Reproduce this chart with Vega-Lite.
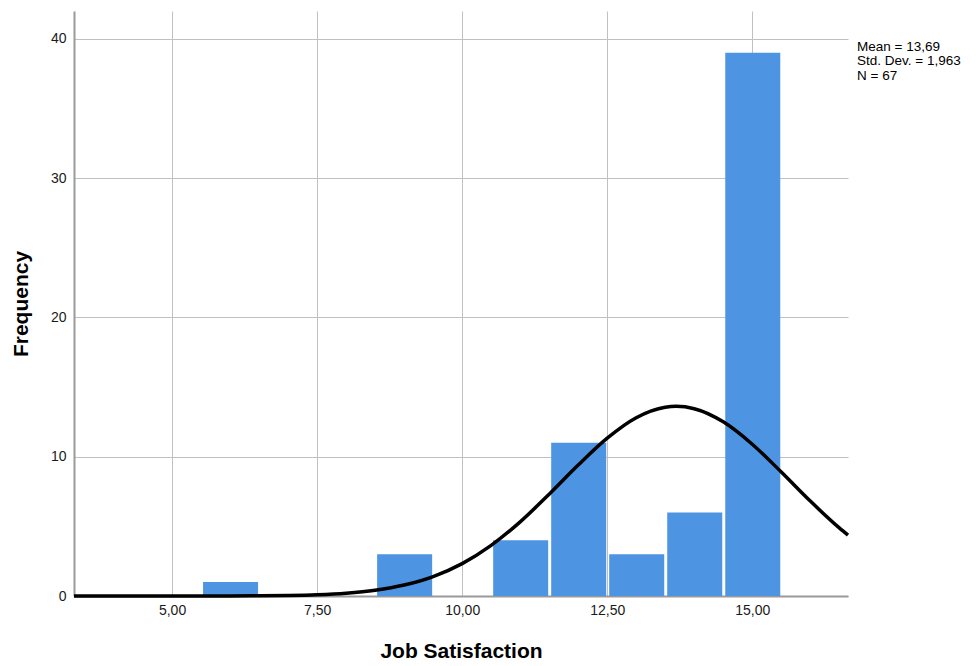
{
  "$schema": "https://vega.github.io/schema/vega-lite/v6.json",
  "autosize": {"type": "none"},
  "width": 774,
  "height": 585,
  "padding": {"left": 74, "top": 11, "right": 131, "bottom": 70},
  "background": "white",
  "config": {
    "font": "Liberation Sans",
    "view": {"stroke": null},
    "axis": {
      "grid": true,
      "gridColor": "#c0c0c0",
      "gridWidth": 1,
      "ticks": false,
      "labelFont": "Liberation Sans",
      "labelFontSize": 14,
      "labelColor": "#1a1a1a",
      "titleFont": "Liberation Sans",
      "titleFontSize": 21,
      "titleFontWeight": "bold",
      "titleColor": "#000000",
      "domainColor": "#9a9a9a",
      "domainWidth": 2
    }
  },
  "datasets": {
    "bins": [
      {"bin_start": 5.5, "bin_end": 6.5, "count": 1},
      {"bin_start": 8.5, "bin_end": 9.5, "count": 3},
      {"bin_start": 10.5, "bin_end": 11.5, "count": 4},
      {"bin_start": 11.5, "bin_end": 12.5, "count": 11},
      {"bin_start": 12.5, "bin_end": 13.5, "count": 3},
      {"bin_start": 13.5, "bin_end": 14.5, "count": 6},
      {"bin_start": 14.5, "bin_end": 15.5, "count": 39}
    ],
    "normal_curve": [
      {"x": 3.31, "freq": 0.0000},
      {"x": 4.0, "freq": 0.0001},
      {"x": 5.0, "freq": 0.0008},
      {"x": 6.0, "freq": 0.0063},
      {"x": 6.5, "freq": 0.0166},
      {"x": 7.0, "freq": 0.0409},
      {"x": 7.5, "freq": 0.0943},
      {"x": 8.0, "freq": 0.2040},
      {"x": 8.5, "freq": 0.4133},
      {"x": 9.0, "freq": 0.7847},
      {"x": 9.5, "freq": 1.3956},
      {"x": 10.0, "freq": 2.3266},
      {"x": 10.5, "freq": 3.6359},
      {"x": 11.0, "freq": 5.3247},
      {"x": 11.5, "freq": 7.3077},
      {"x": 12.0, "freq": 9.3995},
      {"x": 12.5, "freq": 11.330},
      {"x": 13.0, "freq": 12.800},
      {"x": 13.5, "freq": 13.552},
      {"x": 13.69, "freq": 13.616},
      {"x": 14.0, "freq": 13.447},
      {"x": 14.5, "freq": 12.505},
      {"x": 15.0, "freq": 10.898},
      {"x": 15.5, "freq": 8.901},
      {"x": 16.0, "freq": 6.813},
      {"x": 16.5, "freq": 4.888},
      {"x": 16.65, "freq": 4.368}
    ],
    "stats": [
      {"label": ["Mean = 13,69", "Std. Dev. = 1,963", "N = 67"]}
    ]
  },
  "layer": [
    {
      "data": {"name": "bins"},
      "mark": {"type": "bar", "color": "#4d94e2", "binSpacing": 3},
      "encoding": {
        "x": {
          "field": "bin_start",
          "type": "quantitative",
          "bin": {"binned": true, "step": 1},
          "scale": {"domain": [3.31, 16.65], "nice": false, "zero": false},
          "axis": {
            "title": "Job Satisfaction",
            "grid": true,
            "values": [5, 7.5, 10, 12.5, 15],
            "labelExpr": "replace(format(datum.value, '.2f'), '.', ',')",
            "labelPadding": 7,
            "titleY": 61,
            "titleBaseline": "alphabetic",
            "titlePadding": 0
          }
        },
        "x2": {"field": "bin_end"},
        "y": {
          "field": "count",
          "type": "quantitative",
          "scale": {"domain": [0, 42], "nice": false},
          "axis": {
            "title": "Frequency",
            "grid": true,
            "values": [0, 10, 20, 30, 40],
            "format": "d",
            "labelPadding": 8,
            "titleX": -47,
            "titleBaseline": "alphabetic",
            "titleAngle": -90
          }
        }
      }
    },
    {
      "data": {"name": "normal_curve"},
      "mark": {"type": "line", "color": "#000000", "strokeWidth": 3.5, "interpolate": "monotone"},
      "encoding": {
        "x": {"field": "x", "type": "quantitative"},
        "y": {"field": "freq", "type": "quantitative"}
      }
    },
    {
      "data": {"name": "stats"},
      "mark": {
        "type": "text",
        "align": "left",
        "baseline": "alphabetic",
        "fontSize": 13.5,
        "lineHeight": 14.5,
        "color": "#000000",
        "dx": 9,
        "dy": 12
      },
      "encoding": {
        "x": {"datum": 16.65, "type": "quantitative"},
        "y": {"datum": 40, "type": "quantitative"},
        "text": {"field": "label"}
      }
    }
  ]
}
